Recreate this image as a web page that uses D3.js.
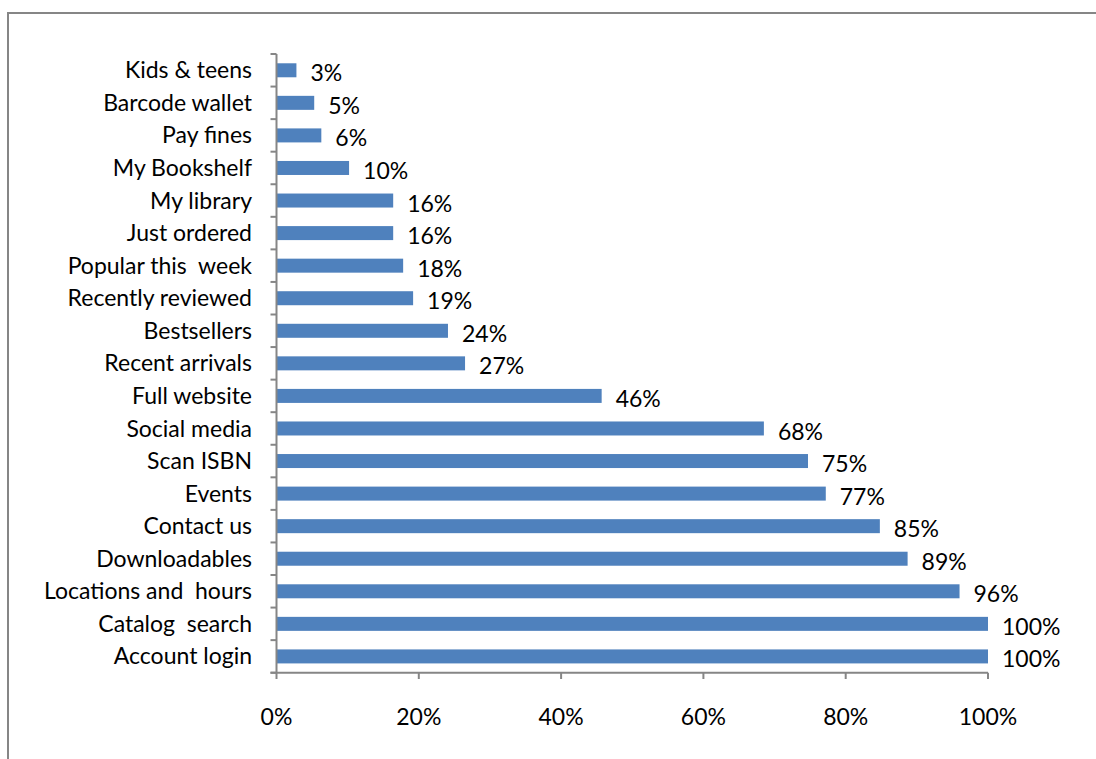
<!DOCTYPE html>
<html><head><meta charset="utf-8">
<script src="https://cdn.jsdelivr.net/npm/d3@7"></script>
<style>body{margin:0;background:#fff}svg{display:block}text{font-family:Lato,"Open Sans",sans-serif;fill:#000}</style>
</head><body><svg id="c" width="1096" height="759"></svg>
<script>
const categories = ["Kids & teens","Barcode wallet","Pay fines","My Bookshelf","My library","Just ordered","Popular this  week","Recently reviewed","Bestsellers","Recent arrivals","Full website","Social media","Scan ISBN","Events","Contact us","Downloadables","Locations and  hours","Catalog  search","Account login"];
const values = [2.8,5.3,6.3,10.2,16.4,16.4,17.8,19.2,24.1,26.5,45.7,68.5,74.7,77.2,84.8,88.7,96,100,100];
const valueLabels = ["3%","5%","6%","10%","16%","16%","18%","19%","24%","27%","46%","68%","75%","77%","85%","89%","96%","100%","100%"];
const xTicks = [0,20,40,60,80,100];
const xTickLabels = ["0%","20%","40%","60%","80%","100%"];

const svg = d3.select("#c");
svg.append("rect").attr("x",8).attr("y",13).attr("width",1200).attr("height",900)
  .attr("fill","none").attr("stroke","#868686").attr("stroke-width",2);

const x = d3.scaleLinear().domain([0,100]).range([276.5,988]);
const y = d3.scaleBand().domain(categories).range([54,672.7]).paddingInner(0.57).paddingOuter(0.285);
const data = categories.map((c,i)=>({c,v:values[i],l:valueLabels[i]}));
const FS = 23;

svg.selectAll("rect.bar").data(data).join("rect").attr("class","bar")
  .attr("x",x(0)).attr("y",d=>y(d.c)).attr("width",d=>x(d.v)-x(0)).attr("height",y.bandwidth())
  .attr("fill","#4f81bd");

svg.selectAll("text.val").data(data).join("text").attr("class","val")
  .attr("x",d=>x(d.v)+14).attr("y",d=>y(d.c)+y.bandwidth()/2+3).attr("dy","0.35em")
  .attr("font-size",FS).text(d=>d.l);

// category axis
const yAxisG = svg.append("g");
yAxisG.append("line").attr("x1",x(0)).attr("x2",x(0)).attr("y1",54).attr("y2",672.7).attr("stroke","#868686").attr("stroke-width",2);
const edges = d3.range(categories.length+1).map(i=>54+i*(672.7-54)/categories.length);
yAxisG.selectAll("line.t").data(edges).join("line").attr("class","t")
  .attr("x1",x(0)-6).attr("x2",x(0)).attr("y1",d=>d).attr("y2",d=>d).attr("stroke","#868686").attr("stroke-width",2);
yAxisG.selectAll("text").data(categories).join("text")
  .attr("x",252).attr("y",d=>y(d)+y.bandwidth()/2).attr("dy","0.35em").attr("text-anchor","end")
  .attr("font-size",FS).style("white-space","pre").attr("xml:space","preserve").text(d=>d);

// value axis
const xAxisG = svg.append("g");
xAxisG.append("line").attr("x1",x(0)-6).attr("x2",x(100)).attr("y1",672.7).attr("y2",672.7).attr("stroke","#868686").attr("stroke-width",2);
xAxisG.selectAll("line.t").data(xTicks).join("line").attr("class","t")
  .attr("x1",d=>x(d)).attr("x2",d=>x(d)).attr("y1",672.7).attr("y2",679).attr("stroke","#868686").attr("stroke-width",2);
xAxisG.selectAll("text").data(xTicks).join("text")
  .attr("x",d=>x(d)).attr("y",717).attr("dy","0.35em").attr("text-anchor","middle")
  .attr("font-size",FS).text((d,i)=>xTickLabels[i]);
</script></body></html>
